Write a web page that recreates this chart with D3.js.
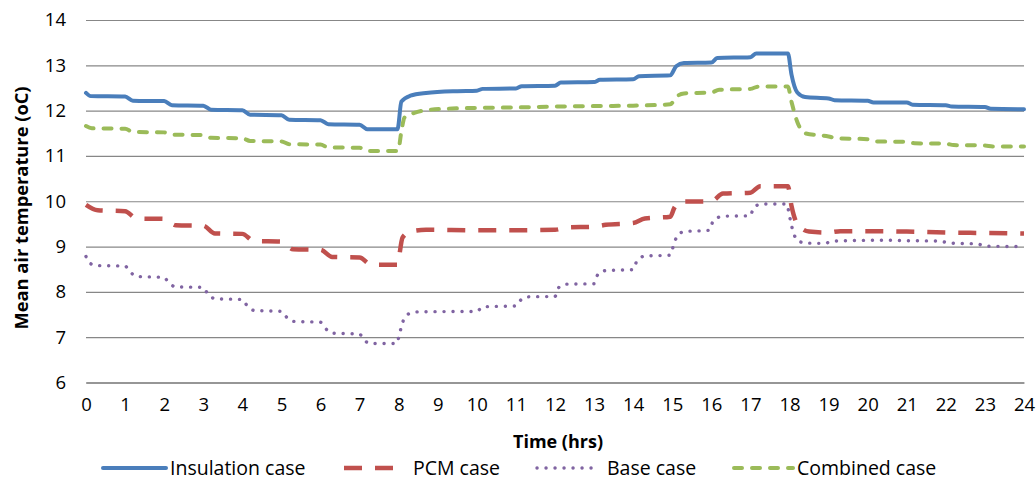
<!DOCTYPE html>
<html>
<head>
<meta charset="utf-8">
<script src="https://cdn.jsdelivr.net/npm/d3@7"></script>
<style>
  html, body { margin: 0; padding: 0; background: #fff; }
  svg { display: block; font-family: "Open Sans", Lato, sans-serif; }
</style>
</head>
<body>
<svg id="chart" width="1036" height="481"></svg>
<script>
// ---- data (time in hours, mean air temperature in °C) ----
const xTicks = d3.range(0, 25);
const yTicks = [6, 7, 8, 9, 10, 11, 12, 13, 14];

const insulationCase = [[0,12.39],[0.12,12.32],[1,12.31],[1.2,12.22],[2,12.21],[2.2,12.12],[3,12.11],[3.2,12.02],[4,12.01],[4.2,11.91],[5,11.9],[5.2,11.8],[6,11.79],[6.2,11.7],[7,11.69],[7.2,11.59],[7.97,11.59],[8.07,12.2],[8.3,12.33],[8.7,12.39],[9.5,12.43],[10,12.44],[10.15,12.48],[11,12.49],[11.15,12.54],[12,12.55],[12.15,12.62],[13,12.63],[13.15,12.68],[14,12.69],[14.15,12.76],[14.95,12.78],[15.1,12.98],[15.3,13.05],[16,13.06],[16.15,13.16],[17,13.18],[17.15,13.26],[17.96,13.26],[18.05,12.8],[18.2,12.4],[18.4,12.3],[19,12.27],[19.15,12.23],[20,12.22],[20.15,12.18],[21,12.18],[21.15,12.13],[22,12.12],[22.15,12.09],[23,12.08],[23.15,12.04],[24,12.03]];

const pcmCase = [[0,9.92],[0.3,9.8],[1,9.78],[1.3,9.62],[2,9.61],[2.3,9.47],[3,9.46],[3.3,9.29],[4,9.28],[4.3,9.12],[5,9.11],[5.3,8.94],[6,8.93],[6.3,8.77],[7,8.76],[7.3,8.6],[7.96,8.6],[8.1,9.2],[8.3,9.33],[8.7,9.37],[10,9.36],[11,9.36],[12,9.37],[12.3,9.42],[13,9.44],[13.3,9.48],[14,9.52],[14.3,9.62],[14.95,9.66],[15.05,9.85],[15.2,9.99],[16,10.0],[16.3,10.17],[17,10.19],[17.25,10.33],[17.96,10.33],[18.05,9.9],[18.2,9.5],[18.5,9.33],[19,9.31],[19.3,9.34],[20,9.34],[21,9.33],[22,9.31],[23,9.3],[24,9.29]];

const baseCase = [[0,8.78],[0.1,8.63],[0.3,8.58],[1,8.57],[1.1,8.47],[1.3,8.34],[2,8.32],[2.1,8.22],[2.3,8.11],[3,8.1],[3.1,7.98],[3.3,7.85],[4,7.83],[4.1,7.72],[4.3,7.59],[5,7.57],[5.1,7.47],[5.3,7.35],[6,7.33],[6.1,7.22],[6.3,7.09],[7,7.07],[7.1,6.95],[7.3,6.86],[7.95,6.86],[8.02,7.07],[8.08,7.26],[8.15,7.43],[8.3,7.53],[8.5,7.56],[10,7.57],[10.15,7.67],[11,7.69],[11.1,7.8],[11.3,7.89],[12,7.9],[12.1,8.1],[12.3,8.17],[13,8.18],[13.1,8.39],[13.3,8.47],[14,8.49],[14.1,8.69],[14.3,8.79],[14.95,8.81],[15.03,9.02],[15.12,9.22],[15.3,9.33],[15.95,9.36],[16.05,9.57],[16.3,9.67],[17,9.68],[17.08,9.86],[17.3,9.94],[17.93,9.94],[17.99,9.72],[18.04,9.51],[18.1,9.31],[18.2,9.14],[18.4,9.08],[18.9,9.07],[19.1,9.12],[19.5,9.13],[20.5,9.14],[21,9.13],[21.8,9.12],[22.1,9.08],[22.3,9.07],[22.8,9.06],[23,9.01],[24,9.0]];

const combinedCase = [[0,11.66],[0.15,11.61],[1,11.6],[1.2,11.53],[2,11.52],[2.2,11.47],[3,11.46],[3.2,11.4],[4,11.39],[4.2,11.33],[5,11.32],[5.2,11.26],[6,11.25],[6.2,11.19],[7,11.18],[7.2,11.11],[7.98,11.11],[8.08,11.6],[8.15,11.85],[8.4,11.95],[8.8,12.02],[9.5,12.05],[10,12.06],[11,12.07],[12,12.09],[13,12.1],[14,12.11],[14.95,12.14],[15.1,12.3],[15.3,12.38],[16,12.4],[16.2,12.46],[17,12.48],[17.2,12.53],[17.96,12.53],[18.05,12.2],[18.2,11.75],[18.4,11.5],[19,11.43],[19.2,11.39],[20,11.37],[20.2,11.32],[21,11.31],[21.2,11.28],[22,11.27],[22.2,11.24],[23,11.23],[23.2,11.21],[24,11.21]];

const seriesNames = ["Insulation case", "PCM case", "Base case", "Combined case"];
const seriesData = [insulationCase, pcmCase, baseCase, combinedCase];
const seriesColors = ["#4A7EBB", "#C0504D", "#8064A2", "#9BBB59"];

// ---- layout ----
const svg = d3.select("#chart");
const mLeft = 86, mRight = 1024, mTop = 20, mBottom = 382.5;
const fontFam = "'Open Sans', Lato, sans-serif";

const x = d3.scaleLinear().domain([0, 24]).range([mLeft, mRight]);
const y = d3.scaleLinear().domain([6, 14]).range([mBottom, mTop]);

// gridlines + y labels
svg.append("g")
  .attr("transform", `translate(${mLeft},0)`)
  .call(d3.axisLeft(y).tickValues(yTicks).tickSize(-(mRight - mLeft)).tickFormat(d => d).tickPadding(20))
  .call(g => g.select(".domain").remove())
  .call(g => g.selectAll(".tick line").attr("stroke", "#878787").attr("stroke-width", 1.2))
  .call(g => g.selectAll(".tick text").attr("font-size", 18.5).attr("fill", "#000").attr("font-family", fontFam));

// x axis
svg.append("g")
  .attr("transform", `translate(0,${mBottom})`)
  .call(d3.axisBottom(x).tickValues(xTicks).tickSize(0).tickPadding(15).tickFormat(d => d))
  .call(g => g.select(".domain").attr("stroke", "#878787").attr("stroke-width", 1.5))
  .call(g => g.selectAll(".tick text").attr("font-size", 18.5).attr("fill", "#000").attr("font-family", fontFam));

// axis titles
svg.append("text")
  .attr("x", 558).attr("y", 448)
  .attr("text-anchor", "middle")
  .attr("font-size", 18).attr("font-weight", "bold")
  .text("Time (hrs)");

svg.append("text")
  .attr("transform", "translate(28,208) rotate(-90)")
  .attr("text-anchor", "middle")
  .attr("font-size", 18.3).attr("font-weight", "bold")
  .text("Mean air temperature (oC)");

// line styles
const styles = [
  { width: 4, dash: null, cap: "round" },
  { width: 4.5, dash: "18,13", cap: "butt" },
  { width: 3.4, dash: "0.1,8.9", cap: "round" },
  { width: 4, dash: "8,10", cap: "round" }
];

const line = d3.line().x(d => x(d[0])).y(d => y(d[1])).curve(d3.curveMonotoneX);

// draw order: base, pcm, combined, insulation
[2, 1, 3, 0].forEach(i => {
  svg.append("path")
    .datum(seriesData[i])
    .attr("fill", "none")
    .attr("stroke", seriesColors[i])
    .attr("stroke-width", styles[i].width)
    .attr("stroke-linecap", styles[i].cap)
    .attr("stroke-linejoin", "round")
    .attr("stroke-dasharray", styles[i].dash)
    .attr("d", line);
});

// legend
const legendY = 468;
const legendItems = [
  { x0: 103, x1: 166, tx: 170 },
  { x0: 344, x1: 393, tx: 413 },
  { x0: 537, x1: 598, tx: 607 },
  { x0: 734, x1: 793, tx: 797 }
];
legendItems.forEach((it, i) => {
  svg.append("line")
    .attr("x1", it.x0).attr("x2", it.x1)
    .attr("y1", legendY).attr("y2", legendY)
    .attr("stroke", seriesColors[i])
    .attr("stroke-width", styles[i].width)
    .attr("stroke-linecap", styles[i].cap)
    .attr("stroke-dasharray", styles[i].dash);
  svg.append("text")
    .attr("x", it.tx).attr("y", legendY + 7)
    .attr("font-size", 19.5)
    .attr("font-family", fontFam)
    .text(seriesNames[i]);
});
</script>
</body>
</html>
